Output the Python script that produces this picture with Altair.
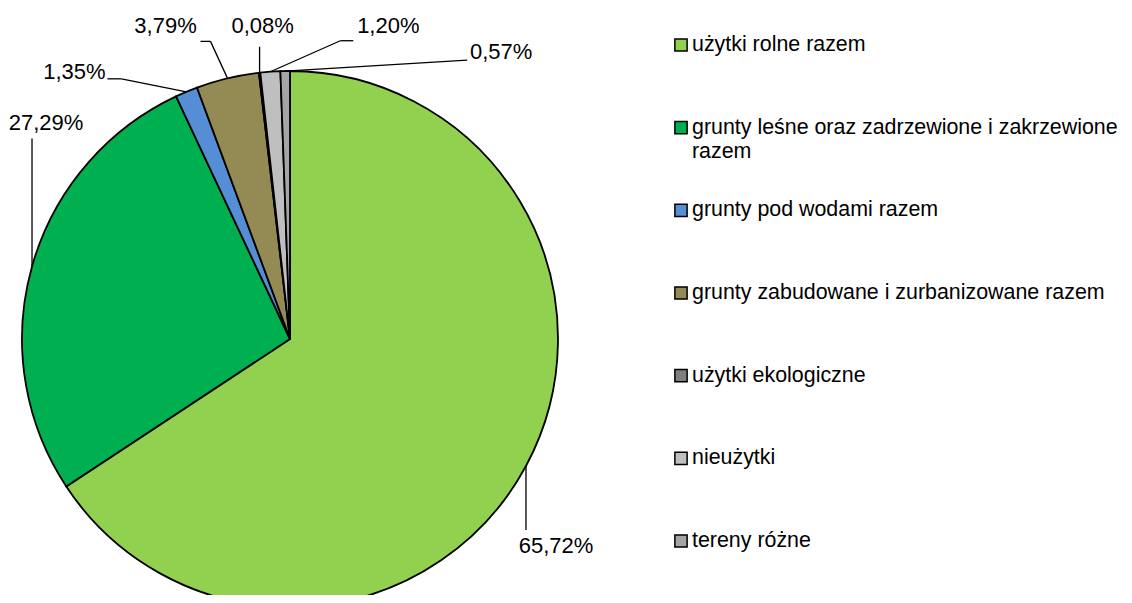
import altair as alt
import pandas as pd

# ---- data ----
categories = [
    "użytki rolne razem",
    "grunty leśne oraz zadrzewione i zakrzewione razem",
    "grunty pod wodami razem",
    "grunty zabudowane i zurbanizowane razem",
    "użytki ekologiczne",
    "nieużytki",
    "tereny różne",
]
shares = [65.72, 27.29, 1.35, 3.79, 0.08, 1.20, 0.57]
colors = ["#92D050", "#00B050", "#558ED5", "#948A54", "#7F7F7F", "#BFBFBF", "#A5A5A5"]

# ---- label layout (offsets from slice edge point: text, elbow, line end) ----
label_layout = {
    "użytki rolne razem": (30, 80, 0, 64, 0, 64),
    "grunty leśne oraz zadrzewione i zakrzewione razem": (14, -143, 0, -128, 0, -128),
    "grunty pod wodami razem": (-112, -20, -65, -13, -79, -13),
    "grunty zabudowane i zurbanizowane razem": (-62, -52, -17, -37, -27, -37),
    "użytki ekologiczne": (3, -47, 0, -26, 0, -26),
    "nieużytki": (118, -46, 70, -31, 83, -31),
    "tereny różne": (216, -19, 182, -11, 182, -11),
}

W, H = 1116, 587
CX, CY, R = 282, 331, 268
FONT = "Liberation Sans"
FS = 22
FS_LEG = 21.4

df = pd.DataFrame({"cat": categories, "value": shares, "idx": list(range(len(categories)))})
for i, k in enumerate(["tdx", "tdy", "bdx", "bdy", "qdx", "qdy"]):
    df[k] = [label_layout[c][i] for c in categories]

color_scale = alt.Scale(domain=categories, range=colors)

base = alt.Chart(df)

arcs = base.mark_arc(outerRadius=R, stroke="black", strokeWidth=1.8).encode(
    theta=alt.Theta("value:Q", stack=True),
    order=alt.Order("idx:Q"),
    color=alt.Color("cat:N", scale=color_scale, legend=None),
    x=alt.value(CX),
    y=alt.value(CY),
)

geo = base.transform_window(
    cum="sum(value)", sort=[alt.SortField("idx")]
).transform_joinaggregate(
    total="sum(value)"
).transform_calculate(
    mid="2*PI*(datum.cum - datum.value/2)/datum.total",
).transform_calculate(
    ex=f"{CX} + {R}*sin(datum.mid)",
    ey=f"{CY} - {R}*cos(datum.mid)",
).transform_calculate(
    tx="datum.ex + datum.tdx",
    ty="datum.ey + datum.tdy",
    bx="datum.ex + datum.bdx",
    by="datum.ey + datum.bdy",
    qx="datum.ex + datum.qdx",
    qy="datum.ey + datum.qdy",
    lab="replace(format(datum.value, '.2f'), '.', ',') + '%'",
)

rule1 = geo.mark_rule(color="black", strokeWidth=1.3).encode(
    x=alt.X("ex:Q", scale=None, axis=None),
    y=alt.Y("ey:Q", scale=None, axis=None),
    x2="bx:Q",
    y2="by:Q",
)
rule2 = geo.mark_rule(color="black", strokeWidth=1.3).encode(
    x=alt.X("bx:Q", scale=None, axis=None),
    y=alt.Y("by:Q", scale=None, axis=None),
    x2="qx:Q",
    y2="qy:Q",
)
labels = geo.mark_text(font=FONT, fontSize=FS, color="black", align="center", baseline="middle").encode(
    x=alt.X("tx:Q", scale=None, axis=None),
    y=alt.Y("ty:Q", scale=None, axis=None),
    text="lab:N",
)

leg_y = alt.Y("cat:N", scale=alt.Scale(type="point", domain=categories, range=[37, 533], padding=0), axis=None)
leg_sq = base.mark_square(size=150, stroke="black", strokeWidth=1.5, opacity=1).encode(
    x=alt.value(673),
    y=leg_y,
    color=alt.Color("cat:N", scale=color_scale, legend=None),
)
leg_txt = base.transform_calculate(
    disp="replace(datum.cat, 'zakrzewione razem', 'zakrzewione\\nrazem')"
).mark_text(font=FONT, fontSize=FS_LEG, color="black", align="left", baseline="middle", lineBreak="\n", lineHeight=24).encode(
    x=alt.value(684),
    y=leg_y,
    text="disp:N",
)

chart = alt.layer(arcs, rule1, rule2, labels, leg_sq, leg_txt).resolve_scale(
    x="independent", y="independent"
).properties(
    width=W, height=H, padding=0, autosize=alt.AutoSizeParams(type="none"),
    background="white",
).configure_view(stroke=None)

chart.save("out.html", embed_options={"renderer": "svg", "actions": False})
